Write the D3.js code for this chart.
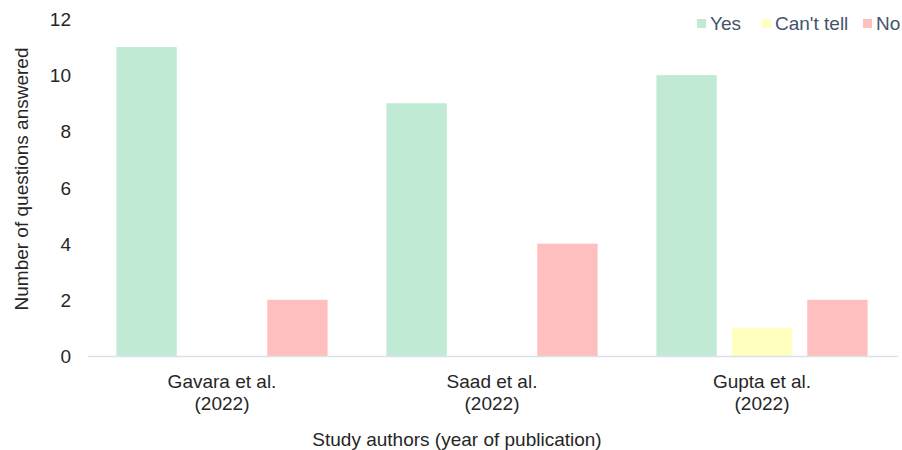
<!DOCTYPE html>
<html>
<head>
<meta charset="utf-8">
<script src="https://cdn.jsdelivr.net/npm/d3@7/dist/d3.min.js"></script>
<style>
  html, body { margin: 0; padding: 0; background: #ffffff; }
  svg { display: block; font-family: "Liberation Sans", Arial, sans-serif; }
</style>
</head>
<body>
<svg id="chart" width="902" height="450"></svg>
<script>
// Study appraisal counts per answer
const studies = ["Gavara et al.|(2022)", "Saad et al.|(2022)", "Gupta et al.|(2022)"];
const answers = ["Yes", "Can't tell", "No"];
const yesCounts = [11, 9, 10];
const cantTellCounts = [0, 0, 1];
const noCounts = [2, 4, 2];
const yTicks = [0, 2, 4, 6, 8, 10, 12];
const colors = ["#c0ead4", "#ffffc0", "#ffbfbf"];

const series = [yesCounts, cantTellCounts, noCounts];
const rows = studies.map((s, i) => ({
  study: s,
  values: answers.map((a, j) => ({ key: a, value: series[j][i] }))
}));

const svg = d3.select("#chart");
const margin = { left: 88, right: 4, top: 19, bottom: 94 };
const width = 902, height = 450;

const x0 = d3.scaleBand().domain(studies).range([margin.left, width - margin.right]).padding(0);
const x1 = d3.scaleBand().domain(answers).range([0, x0.bandwidth()]).paddingInner(0.2).paddingOuter(0.39);
const y = d3.scaleLinear().domain([0, 12]).range([height - margin.bottom, margin.top]);
const color = d3.scaleOrdinal().domain(answers).range(colors);

// Bars
svg.append("g").selectAll("g")
  .data(rows)
  .join("g")
  .attr("transform", d => `translate(${x0(d.study) - 1},0)`)
  .selectAll("rect")
  .data(d => d.values)
  .join("rect")
  .attr("x", d => x1(d.key))
  .attr("width", x1.bandwidth())
  .attr("y", d => y(d.value))
  .attr("height", d => y(0) - y(d.value))
  .attr("fill", d => color(d.key));

// Baseline
svg.append("line")
  .attr("x1", margin.left).attr("x2", width - margin.right)
  .attr("y1", y(0) + 0.5).attr("y2", y(0) + 0.5)
  .attr("stroke", "#d9e1ea").attr("stroke-width", 1.5);

// Y axis tick labels
const yAxis = d3.axisLeft(y).tickValues(yTicks).tickSize(0).tickPadding(0);
const gy = svg.append("g").attr("transform", `translate(${margin.left - 17},0)`).call(yAxis);
gy.select(".domain").remove();
gy.selectAll("text")
  .attr("font-size", 19)
  .attr("font-family", "Liberation Sans, Arial, sans-serif")
  .attr("fill", "#262626")
  .attr("dy", "0.35em");

// X axis category labels (two lines)
const xLabels = svg.append("g");
xLabels.selectAll("text")
  .data(studies)
  .join("text")
  .attr("x", d => x0(d) + x0.bandwidth() / 2 - 1)
  .attr("y", 388)
  .attr("text-anchor", "middle")
  .attr("font-size", 19)
  .attr("fill", "#262626")
  .each(function (d) {
    const parts = d.split("|");
    const t = d3.select(this);
    t.append("tspan").attr("x", x0(d) + x0.bandwidth() / 2 - 1).text(parts[0]);
    t.append("tspan").attr("x", x0(d) + x0.bandwidth() / 2 - 1).attr("dy", 22).text(parts[1]);
  });

// Axis titles
svg.append("text")
  .attr("transform", `translate(28,${179}) rotate(-90)`)
  .attr("text-anchor", "middle")
  .attr("font-size", 19)
  .attr("fill", "#262626")
  .text("Number of questions answered");

svg.append("text")
  .attr("x", 457)
  .attr("y", 446)
  .attr("text-anchor", "middle")
  .attr("font-size", 19)
  .attr("fill", "#262626")
  .text("Study authors (year of publication)");

// Legend
const legendX = [697, 762, 863];
const legend = svg.append("g");
answers.forEach((a, i) => {
  legend.append("rect")
    .attr("x", legendX[i]).attr("y", 19)
    .attr("width", 9).attr("height", 9)
    .attr("fill", colors[i]);
  legend.append("text")
    .attr("x", legendX[i] + 13).attr("y", 30)
    .attr("font-size", 19)
    .attr("fill", "#44546a")
    .text(a);
});
</script>
</body>
</html>
